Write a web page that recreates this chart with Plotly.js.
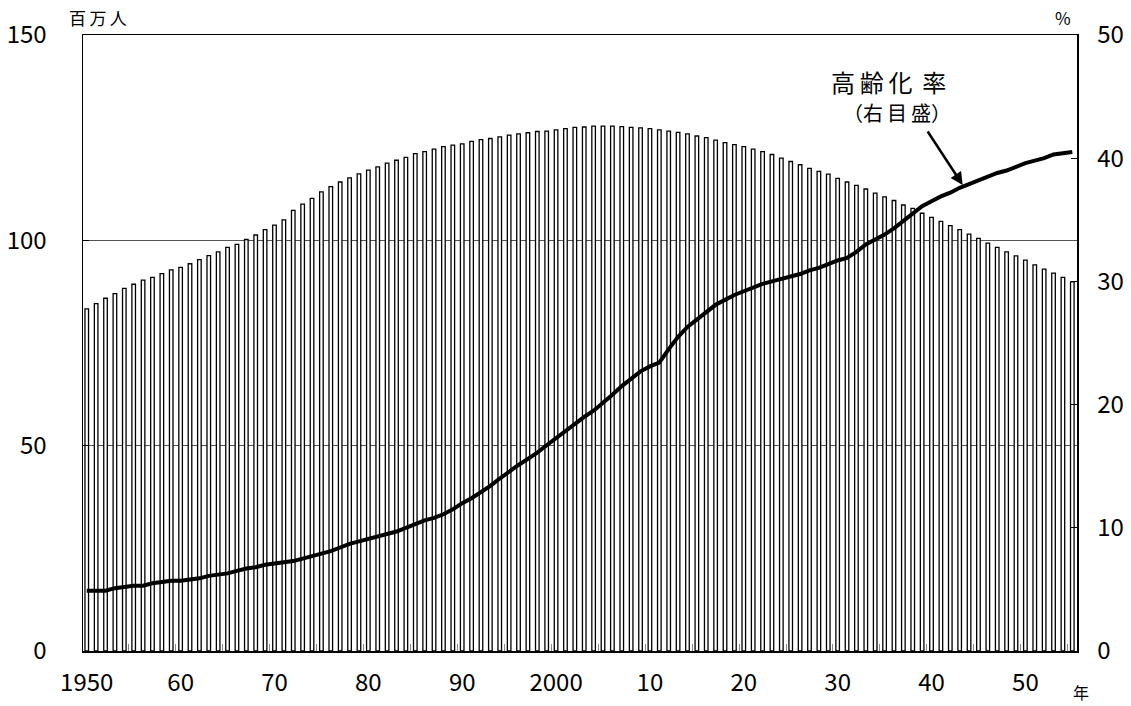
<!DOCTYPE html>
<html>
<head>
<meta charset="utf-8">
<script src="https://cdn.plot.ly/plotly-3.0.1.min.js"></script>
<style>
  html, body { margin: 0; padding: 0; background: #fff; }
  #chart { width: 1131px; height: 706px; }
</style>
</head>
<body>
<div id="chart"></div>
<script>
// Years 1950-2055
const years = [
  1950,1951,1952,1953,1954,1955,1956,1957,1958,1959,
  1960,1961,1962,1963,1964,1965,1966,1967,1968,1969,
  1970,1971,1972,1973,1974,1975,1976,1977,1978,1979,
  1980,1981,1982,1983,1984,1985,1986,1987,1988,1989,
  1990,1991,1992,1993,1994,1995,1996,1997,1998,1999,
  2000,2001,2002,2003,2004,2005,2006,2007,2008,2009,
  2010,2011,2012,2013,2014,2015,2016,2017,2018,2019,
  2020,2021,2022,2023,2024,2025,2026,2027,2028,2029,
  2030,2031,2032,2033,2034,2035,2036,2037,2038,2039,
  2040,2041,2042,2043,2044,2045,2046,2047,2048,2049,
  2050,2051,2052,2053,2054,2055
];

// Total population (millions)
const population = [
  83.3,84.6,85.9,87.0,88.3,89.3,90.3,91.0,91.9,92.8,
  93.4,94.3,95.3,96.3,97.2,98.3,99.0,100.2,101.3,102.6,
  103.7,105.0,107.3,108.8,110.2,111.8,113.1,114.2,115.2,116.2,
  117.1,117.9,118.8,119.5,120.2,121.1,121.6,122.2,122.8,123.2,
  123.5,124.1,124.5,124.8,125.2,125.6,125.9,126.2,126.5,126.6,
  126.9,127.2,127.5,127.6,127.8,127.8,127.8,127.7,127.5,127.4,
  127.2,126.9,126.6,126.3,125.9,125.4,125.0,124.4,123.8,123.3,
  122.8,122.2,121.6,120.9,120.0,119.2,118.4,117.5,116.8,116.1,
  115.1,114.2,113.4,112.5,111.5,110.6,109.7,108.6,107.8,106.6,
  105.6,104.6,103.6,102.6,101.5,100.5,99.3,98.3,97.2,96.2,
  95.2,94.0,93.0,92.0,91.0,89.9
];

// Aging rate (% of population aged 65+)
const agingRate = [
  4.9,4.9,4.9,5.1,5.2,5.3,5.3,5.5,5.6,5.7,
  5.7,5.8,5.9,6.1,6.2,6.3,6.5,6.7,6.8,7.0,
  7.1,7.2,7.3,7.5,7.7,7.9,8.1,8.4,8.7,8.9,
  9.1,9.3,9.5,9.7,10.0,10.3,10.6,10.8,11.1,11.5,
  12.0,12.4,12.9,13.4,14.0,14.6,15.1,15.6,16.1,16.7,
  17.3,17.9,18.4,19.0,19.5,20.1,20.8,21.5,22.1,22.7,
  23.1,23.4,24.5,25.5,26.3,26.9,27.6,28.1,28.5,28.9,
  29.2,29.5,29.8,30.0,30.2,30.4,30.6,30.9,31.1,31.4,
  31.7,31.9,32.4,33.0,33.4,33.8,34.3,34.9,35.6,36.1,
  36.5,36.9,37.2,37.6,37.9,38.2,38.5,38.8,39.0,39.3,
  39.6,39.8,40.0,40.3,40.4,40.5
];

const xTickVals = [1950,1960,1970,1980,1990,2000,2010,2020,2030,2040,2050];
const xTickText = ["1950","60","70","80","90","2000","10","20","30","40","50"];
const yTickVals = [0,50,100,150];
const y2TickVals = [0,10,20,30,40,50];

const numFont = "Noto Sans CJK JP, sans-serif";
const cjkFont = "Noto Sans CJK JP, sans-serif";

const traces = [
  {
    type: 'bar',
    x: years,
    y: population,
    marker: { color: '#ffffff', line: { color: '#000000', width: 1.3 } },
    hoverinfo: 'x+y',
    showlegend: false
  },
  {
    type: 'scatter',
    mode: 'lines',
    x: years,
    y: agingRate,
    yaxis: 'y2',
    line: { color: '#000000', width: 4 },
    showlegend: false
  }
];

const layout = {
  width: 1131,
  height: 706,
  margin: { l: 83, r: 54, t: 35, b: 55 },
  paper_bgcolor: '#ffffff',
  plot_bgcolor: '#ffffff',
  bargap: 0.62,
  showlegend: false,
  xaxis: {
    type: 'linear',
    range: [1949.6, 2055.5],
    tickmode: 'array',
    tickvals: xTickVals,
    ticktext: xTickText,
    ticks: '',
    showgrid: false,
    zeroline: false,
    showline: true,
    linecolor: '#000000',
    linewidth: 1.5,
    mirror: true,
    ticklabelstandoff: 10,
    tickfont: { family: numFont, size: 24, color: '#000000' },
    minor: { tick0: 1954.5, dtick: 5, ticks: 'inside', ticklen: 7, tickcolor: '#888888', tickwidth: 1, showgrid: false }
  },
  yaxis: {
    range: [0, 150],
    tickmode: 'array',
    tickvals: yTickVals,
    ticks: 'inside',
    ticklen: 6,
    tickcolor: '#000000',
    showgrid: true,
    gridcolor: '#555555',
    gridwidth: 1,
    zeroline: false,
    showline: true,
    linecolor: '#000000',
    linewidth: 1.5,
    ticklabelstandoff: 30,
    tickfont: { family: numFont, size: 24, color: '#000000' }
  },
  yaxis2: {
    overlaying: 'y',
    side: 'right',
    range: [0, 50],
    tickmode: 'array',
    tickvals: y2TickVals,
    ticks: 'inside',
    ticklen: 6,
    tickcolor: '#000000',
    showgrid: false,
    zeroline: false,
    showline: true,
    linecolor: '#000000',
    linewidth: 1.5,
    ticklabelstandoff: 14,
    tickfont: { family: numFont, size: 24, color: '#000000' }
  },
  annotations: [
    { xref: 'paper', yref: 'paper', x: 0.0151, y: 1.0292, text: '百\u2009万\u2009人', showarrow: false,
      font: { family: cjkFont, size: 17, color: '#000' }, xanchor: 'center', yanchor: 'middle' },
    { xref: 'paper', yref: 'paper', x: 0.9859, y: 1.0292, text: '%', showarrow: false,
      font: { family: cjkFont, size: 17, color: '#000' }, xanchor: 'center', yanchor: 'middle' },
    { xref: 'paper', yref: 'paper', x: 1.004, y: -0.0666, text: '年', showarrow: false,
      font: { family: cjkFont, size: 16, color: '#000' }, xanchor: 'center', yanchor: 'middle' },
    { xref: 'paper', yref: 'paper', x: 0.8099, y: 0.9243, text: '高\u2009齢\u2009化\u2009\u2009率', showarrow: false,
      font: { family: cjkFont, size: 24, color: '#000' }, xanchor: 'center', yanchor: 'middle' },
    { xref: 'paper', yref: 'paper', x: 0.8186, y: 0.8742, text: '（右\u2009目\u2009盛）', showarrow: false,
      font: { family: cjkFont, size: 20, color: '#000' }, xanchor: 'center', yanchor: 'middle' },
    { xref: 'paper', yref: 'paper', x: 0.885, y: 0.7565, text: '', showarrow: true,
      ax: -36, ay: -55, arrowhead: 2, arrowsize: 1, arrowwidth: 2.5, arrowcolor: '#000' }
  ]
};

Plotly.newPlot('chart', traces, layout, { displayModeBar: false, staticPlot: true });
</script>
</body>
</html>
